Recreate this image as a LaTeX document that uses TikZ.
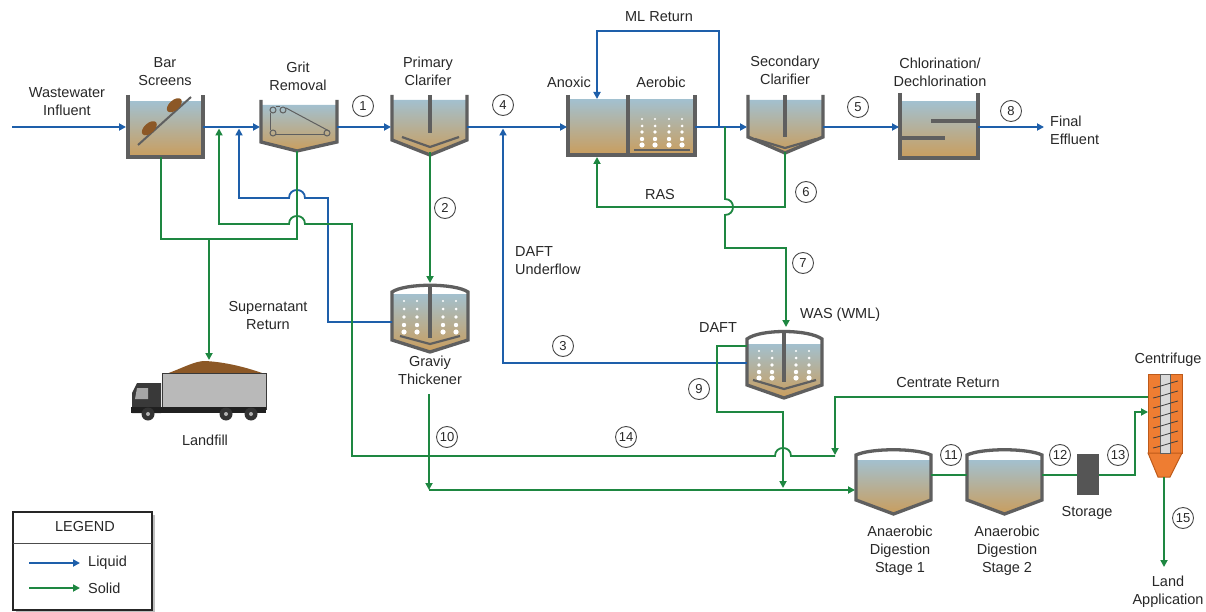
\documentclass[tikz,border=0pt]{standalone}
\usepackage{fontspec}
\setmainfont{Liberation Sans}
\usetikzlibrary{arrows.meta,calc}

\definecolor{liq}{RGB}{30,95,170}
\definecolor{sol}{RGB}{30,135,65}
\definecolor{wallc}{RGB}{95,95,95}
\definecolor{wtop}{RGB}{163,192,206}
\definecolor{wbot}{RGB}{201,158,95}
\definecolor{txt}{RGB}{40,40,40}
\definecolor{debris}{RGB}{140,88,38}
\definecolor{cforange}{RGB}{238,125,50}
\definecolor{cfedge}{RGB}{190,90,25}
\definecolor{storec}{RGB}{85,85,85}

\tikzset{
  liqline/.style={draw=liq, line width=1.8pt},
  solline/.style={draw=sol, line width=1.8pt},
  tip/.style={-{Triangle[length=7pt,width=7pt]}},
  wallline/.style={draw=wallc, line width=3.3pt, line join=miter},
  thinwall/.style={draw=wallc, line width=2.2pt},
  water/.style={top color=wtop, bottom color=wbot},
  lbl/.style={font=\fontsize{14.5}{18}\selectfont, text=txt, align=center, inner sep=0pt},
  num/.style={circle, draw=txt!85, line width=0.9pt, minimum size=21pt, inner sep=0pt,
              font=\fontsize{13}{13}\selectfont, text=txt, fill=white},
}

\begin{document}
\begin{tikzpicture}[x=1pt,y=-1pt]
\useasboundingbox (0,0) rectangle (1206,612);
\fill[white] (0,0) rectangle (1206,612);

% ---------- Bar screens ----------
\shade[water] (129,102) rectangle (202,156);
\draw[wallline] (128,95) -- (128,157) -- (203,157) -- (203,95);
\draw[draw=wallc, line width=2pt] (138,145) -- (191,97);
\fill[debris, rotate around={42:(150,129)}] (150,128) ellipse [x radius=9pt, y radius=5pt];
\fill[debris, rotate around={42:(175,106)}] (175,105) ellipse [x radius=9pt, y radius=5pt];

% ---------- Grit removal ----------
\shade[water] (262,105) -- (262,142) -- (297,150) -- (336,142) -- (336,105) -- cycle;
\draw[wallline] (261,100) -- (261,142) -- (297,151) -- (337,142) -- (337,100);
\begin{scope}[draw=wallc, line width=1pt]
  \draw (270,113) -- (270,130);
  \draw (276,135) -- (324,135);
  \draw (276,107) -- (280,107);
  \draw (286,108) -- (329,131);
  \foreach \p in {(273,110),(283,110),(273,133),(327,133)}
    \draw \p circle[radius=3pt];
\end{scope}

% ---------- Primary clarifier ----------
\shade[water] (393,100) -- (393,140) -- (430,154) -- (466,140) -- (466,100) -- cycle;
\draw[wallline] (392,95) -- (392,140) -- (430,155) -- (467,140) -- (467,95);
\draw[wallline] (430,95) -- (430,133);
\draw[thinwall] (402,137) -- (430,147) -- (459,137);

% ---------- Anoxic / aerobic basin ----------
\shade[water] (569,100) rectangle (694,154);
\draw[wallline] (568,95) -- (568,155) -- (695,155) -- (695,95);
\draw[wallline] (628,95) -- (628,155);
\draw[draw=wallc, line width=1.5pt] (634,150) -- (690,150);
\foreach \x in {642,655,669,682}
  \foreach \y/\r in {119/1.2,126/1.5,132/1.8,139/2.2,145/2.6}
    \fill[white] (\x,\y) circle[radius=\r pt];

% ---------- Secondary clarifier ----------
\shade[water] (749,100) -- (749,137) -- (785,152) -- (822,137) -- (822,100) -- cycle;
\draw[wallline] (748,95) -- (748,137) -- (785,153) -- (823,137) -- (823,95);
\draw[wallline] (785,95) -- (785,137);
\draw[thinwall] (755,139) -- (785,148) -- (816,139);

% ---------- Chlorination / dechlorination ----------
\shade[water] (901,102) rectangle (977,157);
\draw[wallline] (900,93) -- (900,158) -- (978,158) -- (978,93);
\draw[wallline] (931,121) -- (978,121);
\draw[wallline] (900,138) -- (945,138);

% ---------- Gravity thickener ----------
\shade[water] (393,294) -- (393,340) -- (430,351) -- (467,340) -- (467,294) -- cycle;
\foreach \x in {404,417,443,456}
  \foreach \y/\r in {301/1.2,309/1.5,317/1.8,325/2.2,332/2.6}
    \fill[white] (\x,\y) circle[radius=\r pt];
\draw[wallline] (392,292) .. controls (405,283) and (455,283) .. (468,292) -- (468,340) -- (430,352) -- (392,340) -- cycle;
\draw[wallline] (430,287) -- (430,338);
\draw[thinwall] (400,336) -- (430,344) -- (460,336);

% ---------- DAFT ----------
\shade[water] (748,344) -- (748,385) -- (784,397) -- (821,385) -- (821,344) -- cycle;
\foreach \x in {759,772,796,809}
  \foreach \y/\r in {351/1.2,358/1.5,365/1.8,372/2.2,378/2.6}
    \fill[white] (\x,\y) circle[radius=\r pt];
\draw[wallline] (747,339) .. controls (760,329) and (808,329) .. (822,339) -- (822,385) -- (784,398) -- (747,385) -- cycle;
\draw[wallline] (784,333) -- (784,382);
\draw[thinwall] (753,380) -- (784,389) -- (816,380);

% ---------- Anaerobic digesters ----------
\foreach \L in {856,967} {
  \shade[water] (\L+1,460) -- (\L+1,499) -- (\L+37.5,513) -- (\L+74,499) -- (\L+74,460) -- cycle;
  \draw[wallline] (\L,455) .. controls (\L+15,448) and (\L+60,448) .. (\L+75,455)
     -- (\L+75,500) -- (\L+37.5,514) -- (\L,500) -- cycle;
}

% ---------- Storage ----------
\fill[storec] (1077,454) rectangle (1099,495);

% ---------- Centrifuge ----------
\fill[cforange, draw=cfedge, line width=1pt] (1148,374) rectangle (1182,453);
\fill[cforange, draw=cfedge, line width=1pt] (1148,453) -- (1182,453) -- (1170,477) -- (1158,477) -- cycle;
\fill[gray!30, draw=wallc, line width=0.8pt] (1160,374) rectangle (1170,453);
\foreach \y in {386,396,406,416,426,436,446}
  \draw[draw=black!75, line width=0.8pt] (1153,\y+2) .. controls (1162,\y) and (1170,\y-3) .. (1178,\y-5);

% ---------- Truck ----------
\fill[debris] (166,374) .. controls (185,367) and (195,361) .. (205,361) .. controls (225,362) and (245,367) .. (262,373) -- cycle;
\fill[gray!55, draw=gray!45!black, line width=0.6pt] (162,373) rectangle (266,409);
\fill[gray!45!black] (132,413) -- (132,393) -- (137,383) -- (161,383) -- (161,413) -- cycle;
\fill[gray!70] (137,388) -- (148,388) -- (148,399) -- (135,399) -- cycle;
\fill[gray!25!black] (131,407) rectangle (266,413);
\foreach \x in {148,226,251} {
  \fill[black!80] (\x,414) circle[radius=6.5pt];
  \fill[gray!60] (\x,414) circle[radius=2pt];
}

% ---------- Ports ----------
\coordinate (inf) at (12,127);
\coordinate (bs-in) at (126,127);
\coordinate (bs-out) at (203,127);
\coordinate (bs-bot) at (161,157);
\coordinate (gr-in) at (260,127);
\coordinate (gr-out) at (337,127);
\coordinate (gr-bot) at (297,151);
\coordinate (pc-in) at (391,127);
\coordinate (pc-out) at (467,127);
\coordinate (pc-bot) at (430,152);
\coordinate (bio-in) at (567,127);
\coordinate (bio-out) at (695,127);
\coordinate (ml) at (719,127);
\coordinate (was) at (725,127);
\coordinate (ax-top) at (597,99);
\coordinate (ax-bot) at (597,157);
\coordinate (sc-in) at (747,127);
\coordinate (sc-out) at (823,127);
\coordinate (sc-bot) at (785,152);
\coordinate (cl-in) at (899,127);
\coordinate (cl-out) at (978,127);
\coordinate (eff) at (1044,127);
\coordinate (gt-top) at (430,283);
\coordinate (gt-side) at (392,322);
\coordinate (gt-bot) at (429,394);
\coordinate (daft-top) at (786,327);
\coordinate (daft-ul) at (747,346);
\coordinate (daft-ll) at (747,363);
\coordinate (ad1-in) at (855,490);
\coordinate (ad1-out) at (931,475);
\coordinate (ad2-in) at (967,475);
\coordinate (ad2-out) at (1042,475);
\coordinate (st-in) at (1077,475);
\coordinate (st-out) at (1099,475);
\coordinate (cf-in) at (1148,412);
\coordinate (cf-out) at (1148,397);
\coordinate (cf-bot) at (1164,477);
\coordinate (land) at (1164,567);
\coordinate (truck) at (209,360);
\coordinate (j10) at (429,490);

% ---------- Liquid train ----------
\draw[liqline,tip] (inf) -- (bs-in);
\draw[liqline,tip] (bs-out) -- (gr-in);
\draw[liqline,tip] (gr-out) -- (pc-in);
\draw[liqline,tip] (pc-out) -- (bio-in);
\draw[liqline,tip] (bio-out) -- (sc-in);
\draw[liqline,tip] (sc-out) -- (cl-in);
\draw[liqline,tip] (cl-out) -- (eff);
\draw[liqline,tip] (ml) -- (719,31) -- (597,31) -- (ax-top);
\draw[liqline,tip] (daft-ll) -- (503,363) -- (503,128.5);
\draw[liqline,tip] (gt-side) -- (328,322) -- (328,198) -- (305,198)
   .. controls (305,187.3) and (289,187.3) .. (289,198) -- (239,198) -- (239,128.5);

% ---------- Solids train ----------
\draw[solline] (bs-bot) -- (161,239) -- (297,239) -- (gr-bot);
\draw[solline,tip] (209,239) -- (truck);
\draw[solline,tip] (pc-bot) -- (gt-top);
\draw[solline,tip] (sc-bot) -- (785,207) -- (597,207) -- (ax-bot);
\draw[solline,tip] (was) -- (725,199) .. controls (735.7,199) and (735.7,215) .. (725,215)
   -- (725,248) -- (786,248) -- (daft-top);
\draw[solline,tip] (daft-ul) -- (717,346) -- (717,412) -- (783,412) -- (783,488);
\draw[solline,tip] (gt-bot) -- (j10);
\draw[solline,tip] (j10) -- (ad1-in);
\draw[solline,tip] (cf-out) -- (835,397) -- (835,455);
\draw[solline,tip] (835,456) -- (791,456) .. controls (791,445.3) and (775,445.3) .. (775,456)
   -- (352,456) -- (352,224) -- (305,224) .. controls (305,213.3) and (289,213.3) .. (289,224)
   -- (219,224) -- (219,128.5);
\draw[solline] (ad1-out) -- (ad2-in);
\draw[solline] (ad2-out) -- (st-in);
\draw[solline,tip] (st-out) -- (1135,475) -- (1135,412) -- (cf-in);
\draw[solline,tip] (cf-bot) -- (land);

% ---------- Labels ----------
\node[lbl] (t-inf) at (67,102) {Wastewater\\Influent};
\node[lbl] (t-bs) at (165,72) {Bar\\Screens};
\node[lbl] (t-gr) at (298,76) {Grit\\Removal};
\node[lbl] (t-pc) at (428,71) {Primary\\Clarifer};
\node[lbl] (t-ax) at (569,82) {Anoxic};
\node[lbl] (t-ae) at (661,82) {Aerobic};
\node[lbl] (t-ml) at (659,17) {ML Return};
\node[lbl] (t-sc) at (785,70) {Secondary\\Clarifier};
\node[lbl] (t-cl) at (940,72) {Chlorination/\\Dechlorination};
\node[lbl, anchor=west, align=left] (t-eff) at (1050,130) {Final\\Effluent};
\node[lbl] (t-ras) at (660,195) {RAS};
\node[lbl, anchor=west, align=left] (t-ul) at (515,261) {DAFT\\Underflow};
\node[lbl] (t-sup) at (268,316) {Supernatant\\Return};
\node[lbl] (t-gt) at (430,370) {Graviy\\Thickener};
\node[lbl, anchor=west] (t-was) at (800,315) {WAS (WML)};
\node[lbl] (t-daft) at (718,328) {DAFT};
\node[lbl] (t-lf) at (205,440) {Landfill};
\node[lbl] (t-cf) at (1168,360) {Centrifuge};
\node[lbl] (t-cr) at (948,383) {Centrate Return};
\node[lbl] (t-ad1) at (900,551) {Anaerobic\\Digestion\\Stage 1};
\node[lbl] (t-ad2) at (1007,551) {Anaerobic\\Digestion\\Stage 2};
\node[lbl] (t-st) at (1087,513) {Storage};
\node[lbl] (t-land) at (1168,592) {Land\\Application};

% ---------- Stream numbers ----------
\node[num] (n1) at (363,106) {1};
\node[num] (n2) at (445,208) {2};
\node[num] (n3) at (563,346) {3};
\node[num] (n4) at (503,105) {4};
\node[num] (n5) at (858,107) {5};
\node[num] (n6) at (806,192) {6};
\node[num] (n7) at (803,263) {7};
\node[num] (n8) at (1011,111) {8};
\node[num] (n9) at (699,389) {9};
\node[num] (n10) at (447,437) {10};
\node[num] (n11) at (951,455) {11};
\node[num] (n12) at (1060,455) {12};
\node[num] (n13) at (1118,455) {13};
\node[num] (n14) at (626,437) {14};
\node[num] (n15) at (1183,518) {15};

% ---------- Legend ----------
\fill[black!25] (16,515) rectangle (155,613);
\draw[fill=white, draw=black!85, line width=2pt] (13,512) rectangle (152,610);
\draw[draw=black!70, line width=0.8pt] (13,543) -- (152,543);
\node[lbl] (lg) at (85,527) {LEGEND};
\coordinate (lg-l0) at (29,563);
\coordinate (lg-l1) at (80,563);
\coordinate (lg-s0) at (29,588);
\coordinate (lg-s1) at (80,588);
\draw[liqline,tip] (lg-l0) -- (lg-l1);
\draw[solline,tip] (lg-s0) -- (lg-s1);
\node[lbl, anchor=west] (lg-liq) at (88,563) {Liquid};
\node[lbl, anchor=west] (lg-sol) at (88,588) {Solid};
\end{tikzpicture}
\end{document}
